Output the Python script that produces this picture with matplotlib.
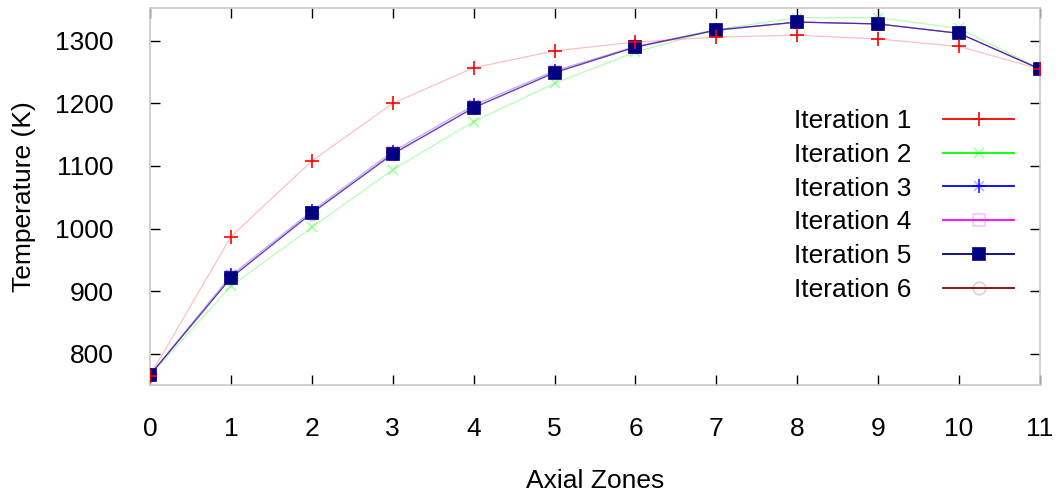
import matplotlib
matplotlib.use("Agg")
import matplotlib.pyplot as plt
from matplotlib.lines import Line2D

plt.rcParams['font.family'] = ['Liberation Sans', 'DejaVu Sans']

zones = list(range(12))
iter1 = [765, 987, 1108, 1200, 1257, 1284, 1298, 1306, 1309, 1303, 1291, 1255]
iter2 = [765, 908, 1002, 1094, 1171, 1232, 1282, 1318, 1337, 1337, 1320, 1255]
iter3 = [766, 925, 1028, 1123, 1197, 1252, 1291, 1318, 1330, 1327, 1312, 1255]
iter4 = [766, 922, 1025, 1120, 1194, 1250, 1290, 1317, 1330, 1327, 1312, 1255]
iter5 = [766, 921, 1025, 1119, 1193, 1249, 1290, 1317, 1330, 1327, 1312, 1255]
iter6 = [766, 921, 1024, 1119, 1193, 1249, 1290, 1317, 1330, 1327, 1312, 1255]
labels = ['Iteration 1', 'Iteration 2', 'Iteration 3', 'Iteration 4', 'Iteration 5', 'Iteration 6']
xticks = list(range(12))
yticks = [800, 900, 1000, 1100, 1200, 1300]

series = [iter1, iter2, iter3, iter4, iter5, iter6]
colors = ['#ff0000', '#00ff00', '#0000ff', '#ff00ff', '#000080', '#8b0000']
# each marker may consist of several layers: (marker, size, facecolor, alpha)
marker_layers = [
    [('+', 10, '#ff0000', 1.0)],
    [('x', 7, '#00ff00', 0.35)],
    [('x', 7, '#0000ff', 0.3), ('+', 10, '#0000ff', 0.9)],
    [('s', 8, 'none', 0.25)],
    [('s', 8, '#000080', 1.0)],
    [('o', 9, 'none', 0.2)],
]
line_alpha = [0.25, 0.3, 0.3, 0.3, 0.55, 0.25]

fig = plt.figure(figsize=(10.57, 4.92), dpi=100)
ax = fig.add_axes([150/1057, 1-385/492, 890/1057, (385-8.3)/492])

order = [5, 3, 1, 2, 4, 0]
for i in order:
    ys = series[i]
    ax.plot(zones, ys, color=colors[i], lw=0.9, alpha=line_alpha[i], zorder=2)
    for (m, ms, fc, a) in marker_layers[i]:
        ax.plot(zones, ys, linestyle='none', marker=m, markersize=ms,
                markerfacecolor=fc, markeredgecolor=colors[i], markeredgewidth=1.2,
                alpha=a, zorder=3 + (1 if i in (0, 4) else 0))

handles = []
for i in range(6):
    parts = [Line2D([], [], color=colors[i], lw=1.3)]
    for (m, ms, fc, a) in marker_layers[i]:
        parts.append(Line2D([], [], linestyle='none', marker=m, markersize=ms,
                            markerfacecolor=fc, markeredgecolor=colors[i],
                            markeredgewidth=1.2, alpha=a))
    handles.append(tuple(parts))
leg = ax.legend(handles, labels, loc='upper left', bbox_to_anchor=(794/1057, 1-109/492),
                bbox_transform=fig.transFigure, frameon=False, markerfirst=False,
                fontsize=19, handlelength=2.7, handletextpad=1.2, labelspacing=0.37,
                borderpad=0, borderaxespad=0)

ax.set_xlim(0, 11)
ax.set_ylim(750, 1352)
ax.set_xticks(xticks)
ax.set_yticks(yticks)
ax.tick_params(direction='in', length=7, width=1, top=True, right=True,
               labelsize=19, colors='black')
ax.tick_params(axis='x', pad=23)
ax.tick_params(axis='y', pad=26)
for s in ax.spines.values():
    s.set_color('#c8c8c8')
    s.set_linewidth(1.2)

ax.set_xlabel('Axial Zones', fontsize=19, labelpad=20)
ax.set_ylabel('Temperature (K)', fontsize=19, labelpad=14)

fig.savefig('out.png', dpi=100)
